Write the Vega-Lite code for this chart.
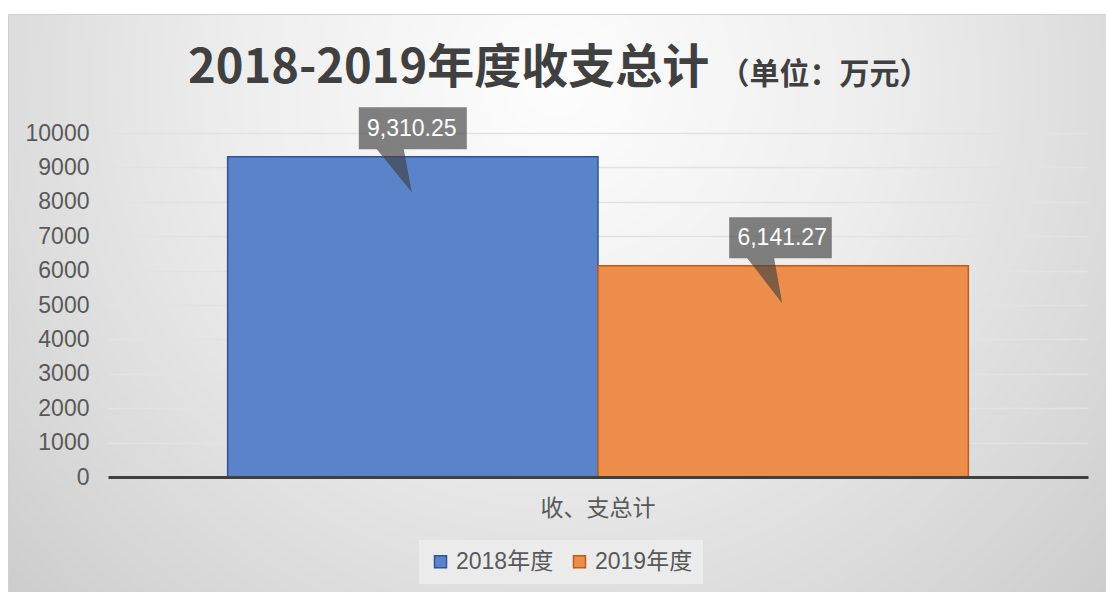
{
  "$schema": "https://vega.github.io/schema/vega-lite/v6.json",
  "width": 1098,
  "height": 578,
  "autosize": {"type": "none"},
  "padding": {"left": 8, "top": 14, "right": 0, "bottom": 0},
  "background": "#ffffff",
  "view": {
    "fill": {
      "gradient": "radial",
      "x1": 0.5, "y1": 0.3, "r1": 0,
      "x2": 0.5, "y2": 0.3, "r2": 0.8,
      "stops": [
        {"offset": 0, "color": "#fdfdfd"},
        {"offset": 0.35, "color": "#eeeeee"},
        {"offset": 0.75, "color": "#d4d4d4"},
        {"offset": 1, "color": "#c2c2c2"}
      ]
    },
    "stroke": "#d0d0d0",
    "strokeWidth": 1
  },
  "title": {
    "text": "2018-2019年度收支总计",
    "anchor": "start",
    "frame": "group",
    "dx": 180,
    "offset": -79,
    "font": "Noto Sans CJK SC",
    "fontSize": 47,
    "fontWeight": "bold",
    "color": "#404040"
  },
  "data": {
    "values": [
      {"类别": "收、支总计", "年度": "2018年度", "金额": 9310.25},
      {"类别": "收、支总计", "年度": "2019年度", "金额": 6141.27}
    ]
  },
  "encoding": {
    "x": {
      "field": "类别",
      "type": "nominal",
      "scale": {"range": [100, 1080], "paddingInner": 0, "paddingOuter": 0.1615},
      "axis": {
        "title": "（单位：万元）",
        "titleX": 711,
        "titleY": -394,
        "titleAlign": "left",
        "titleBaseline": "alphabetic",
        "titleFont": "Noto Sans CJK SC",
        "titleFontSize": 30,
        "titleFontWeight": "bold",
        "titleColor": "#404040",
        "labelAngle": 0,
        "offset": -115,
        "domainColor": "#404040",
        "domainWidth": 3,
        "ticks": false,
        "tickSize": 0,
        "grid": false,
        "labelFont": "Noto Sans CJK SC",
        "labelFontSize": 23,
        "labelColor": "#595959",
        "labelPadding": 20,
        "zindex": 2
      }
    },
    "xOffset": {
      "field": "年度",
      "type": "nominal",
      "scale": {"paddingInner": 0, "paddingOuter": 0}
    },
    "y": {
      "field": "金额",
      "type": "quantitative",
      "scale": {"domain": [0, 10000], "range": [463, 119], "nice": false, "zero": true},
      "axis": {
        "title": null,
        "values": [0, 1000, 2000, 3000, 4000, 5000, 6000, 7000, 8000, 9000, 10000],
        "format": "d",
        "offset": -100,
        "domain": false,
        "ticks": false,
        "tickSize": 0,
        "grid": true,
        "gridColor": "#e2e2e2",
        "gridWidth": 1.5,
        "labelFont": "Liberation Sans",
        "labelFontSize": 23,
        "labelColor": "#595959",
        "labelPadding": 19
      }
    }
  },
  "layer": [
    {
      "mark": {"type": "bar", "strokeWidth": 1.5},
      "encoding": {
        "color": {
          "field": "年度",
          "type": "nominal",
          "scale": {"domain": ["2018年度", "2019年度"], "range": ["#5a83c9", "#ed8d4c"]},
          "legend": {
            "title": null,
            "orient": "none",
            "legendX": 411,
            "legendY": 526,
            "direction": "horizontal",
            "symbolType": "square",
            "symbolSize": 144,
            "symbolStrokeWidth": 1.5,
            "labelFont": "'Liberation Sans', 'Noto Sans CJK SC'",
            "labelFontSize": 23,
            "labelColor": "#595959",
            "labelOffset": 4,
            "columnPadding": 14,
            "fillColor": "#ebebeb",
            "padding": 10
          }
        },
        "stroke": {
          "field": "年度",
          "type": "nominal",
          "scale": {"domain": ["2018年度", "2019年度"], "range": ["#2f5597", "#c55a11"]},
          "legend": {
            "title": null,
            "orient": "none",
            "legendX": 411,
            "legendY": 526,
            "direction": "horizontal",
            "symbolType": "square",
            "symbolSize": 144,
            "symbolStrokeWidth": 1.5,
            "labelFont": "'Liberation Sans', 'Noto Sans CJK SC'",
            "labelFontSize": 23,
            "labelColor": "#595959",
            "labelOffset": 4,
            "columnPadding": 14,
            "fillColor": "#ebebeb",
            "padding": 10
          }
        }
      }
    },
    {
      "transform": [{"filter": "datum['年度'] === '2018年度'"}],
      "mark": {
        "type": "point",
        "filled": true,
        "fill": "#404040",
        "fillOpacity": 0.65,
        "strokeWidth": 0,
        "size": 11664,
        "shape": "M-1,-0.915L1,-0.915L1,-0.137L-0.167,-0.137L-0.019,0.659L-0.667,-0.137L-1,-0.137Z"
      }
    },
    {
      "transform": [{"filter": "datum['年度'] === '2019年度'"}],
      "mark": {
        "type": "point",
        "filled": true,
        "fill": "#404040",
        "fillOpacity": 0.65,
        "strokeWidth": 0,
        "size": 11664,
        "shape": "M-1,-0.9L0.9,-0.9L0.9,-0.141L-0.167,-0.141L-0.019,0.693L-0.667,-0.141L-1,-0.141Z"
      }
    },
    {
      "mark": {
        "type": "text",
        "color": "#ffffff",
        "font": "Liberation Sans",
        "fontSize": 23,
        "dx": -1,
        "dy": -28,
        "baseline": "middle",
        "align": "center"
      },
      "encoding": {
        "text": {"field": "金额", "type": "quantitative", "format": ",.2f"}
      }
    }
  ]
}
